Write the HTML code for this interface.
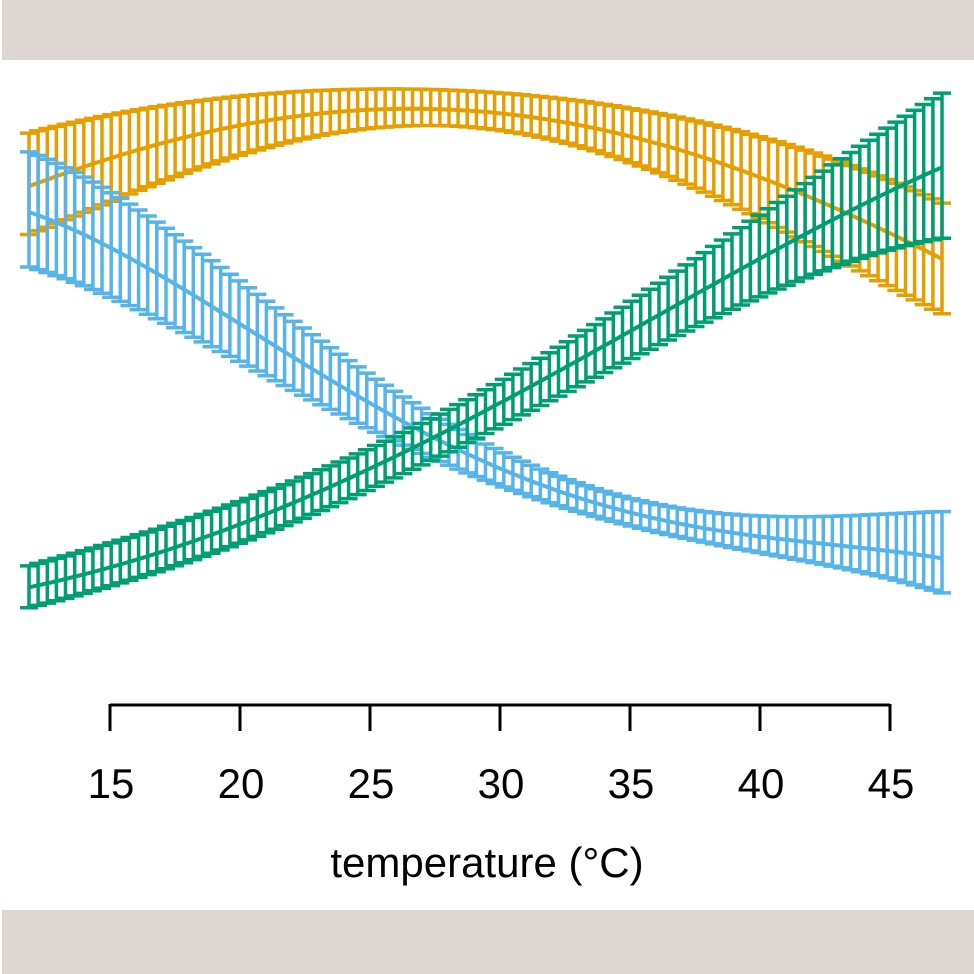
<!DOCTYPE html>
<html><head><meta charset="utf-8"><style>
html,body{margin:0;padding:0;background:#fff;}
svg{display:block;}
</style></head><body>
<svg id="s" width="974" height="974" xmlns="http://www.w3.org/2000/svg">
<rect x="0" y="0" width="974" height="974" fill="#fff"/>
<rect x="2" y="0" width="972" height="60" fill="#ddd6d3"/>
<rect x="2" y="910" width="972" height="64" fill="#ddd6d3"/>
<g id="plot"></g>
<g stroke="#000" stroke-width="3" fill="none">
<line x1="110" y1="705" x2="890" y2="705"/>
<line x1="110" y1="704" x2="110" y2="731"/>
<line x1="240" y1="704" x2="240" y2="731"/>
<line x1="370" y1="704" x2="370" y2="731"/>
<line x1="500" y1="704" x2="500" y2="731"/>
<line x1="630" y1="704" x2="630" y2="731"/>
<line x1="760" y1="704" x2="760" y2="731"/>
<line x1="890" y1="704" x2="890" y2="731"/>
</g>
<g font-family="Liberation Sans, sans-serif" font-size="42" text-anchor="middle" fill="#000">
<text x="111" y="798">15</text><text x="241" y="798">20</text><text x="371" y="798">25</text>
<text x="501" y="798">30</text><text x="631" y="798">35</text><text x="761" y="798">40</text>
<text x="891" y="798">45</text>
<text x="487" y="877">temperature (°C)</text>
</g>
</svg>
<script>
function fit(pts,deg){
  var n=deg+1,A=[],b=[];
  for(var i=0;i<n;i++){A.push(new Array(n).fill(0));b.push(0);}
  pts.forEach(function(p){
    var t=(p[0]-29)/913,pw=[];
    for(var i=0;i<n;i++)pw.push(Math.pow(t,i));
    for(var i=0;i<n;i++){b[i]+=pw[i]*p[1];for(var j=0;j<n;j++)A[i][j]+=pw[i]*pw[j];}
  });
  for(var i=0;i<n;i++){
    var mx=i;for(var r=i+1;r<n;r++)if(Math.abs(A[r][i])>Math.abs(A[mx][i]))mx=r;
    var tmp=A[i];A[i]=A[mx];A[mx]=tmp;tmp=b[i];b[i]=b[mx];b[mx]=tmp;
    for(var r=0;r<n;r++){if(r==i)continue;var f=A[r][i]/A[i][i];
      for(var c=i;c<n;c++)A[r][c]-=f*A[i][c];b[r]-=f*b[i];}
  }
  var co=b.map(function(v,i){return v/A[i][i];});
  return function(x){var t=(x-29)/913,s=0;for(var i=0;i<n;i++)s+=co[i]*Math.pow(t,i);return s;};
}
var S=[
 {c:"#E69F00",
  u:[[29,133],[150,108],[300,92],[400,88],[450,90],[600,105],[750,133],[842,163],[942,203]],
  m:[[29,185],[150,150],[300,115],[400,105],[450,108],[600,137],[750,170],[842,210],[942,260]],
  l:[[29,233],[150,190],[300,138],[400,122],[450,125],[600,160],[750,210],[842,260],[942,315]]},
 {c:"#56B4E9",
  u:[[29,153],[150,215],[300,325],[430,420],[600,485],[700,508],[800,520],[870,518],[942,509]],
  m:[[29,212],[150,270],[300,360],[430,437],[600,505],[700,525],[800,543],[942,558]],
  l:[[29,267],[150,315],[300,395],[430,455],[600,520],[700,540],[800,560],[942,593]]},
 {c:"#009E73",
  u:[[29,566],[200,515],[430,420],[600,320],[750,225],[800,183],[842,160],[942,93]],
  m:[[29,587],[200,540],[430,437],[600,350],[750,267],[800,233],[842,215],[942,168]],
  l:[[29,607],[200,560],[430,455],[600,380],[750,305],[800,275],[842,262],[942,240]]}
];
var out="";
S.forEach(function(s){
  var fu=fit(s.u,4),fm=fit(s.m,4),fl=fit(s.l,4);
  var d="",mp="";
  for(var k=0;k<=100;k++){
    var x=29+k*9.13;
    var u=fu(x),l=fl(x),m=fm(x);
    d+="M"+x.toFixed(1)+" "+u.toFixed(1)+"V"+l.toFixed(1)+"M"+(x-9).toFixed(1)+" "+u.toFixed(1)+"h18M"+(x-9).toFixed(1)+" "+l.toFixed(1)+"h18";
    mp+=(k?"L":"M")+x.toFixed(1)+" "+m.toFixed(1);
  }
  out+='<path d="'+d+'" stroke="'+s.c+'" stroke-width="3.5" fill="none"/>';
  out+='<path d="'+mp+'" stroke="'+s.c+'" stroke-width="4" fill="none"/>';
});
document.getElementById("plot").innerHTML=out;
</script>
</body></html>
